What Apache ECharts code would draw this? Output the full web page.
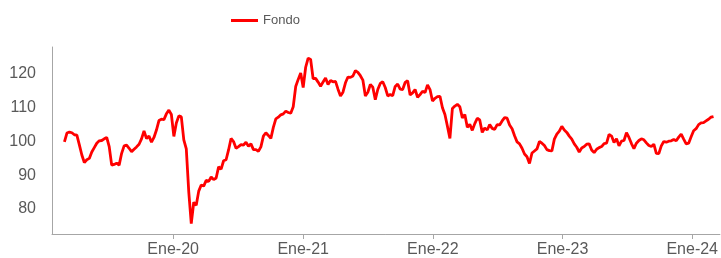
<!DOCTYPE html>
<html>
<head>
  <meta charset="UTF-8">
  <title>Fondo</title>
  <script src="https://cdn.jsdelivr.net/npm/echarts@6/dist/echarts.min.js"></script>
  <style>
    html, body { margin: 0; padding: 0; background: #fff; }
  </style>
</head>
<body>
<div id="main" style="width:721px;height:258px;"></div>

<script type="text/javascript">
  // serie semanal (viernes), desde el 1 de marzo de 2019
  var seriesName = 'Fondo';
  var firstWeek = [2019, 2, 1];
  var fondo = [
    99.9, 102.5, 102.8, 102.6, 102.0, 101.9, 99.0, 96.0, 93.8, 94.6,
    95.0, 96.9, 98.2, 99.5, 100.2, 100.3, 100.8, 101.2, 98.5, 93.0,
    93.2, 93.6, 93.0, 96.5, 98.7, 98.9, 98.0, 97.0, 97.7, 98.4,
    99.2, 100.8, 103.1, 100.9, 101.6, 99.8, 101.2, 103.4, 106.2, 106.6,
    106.5, 108.2, 109.3, 108.0, 101.5, 105.5, 107.6, 107.3, 100.5, 97.8,
    85.0, 75.7, 82.0, 81.1, 85.3, 87.1, 86.8, 88.5, 88.2, 89.5,
    88.7, 89.2, 92.5, 91.8, 94.3, 94.6, 97.5, 100.9, 100.0, 98.0,
    98.5, 99.1, 98.9, 99.8, 98.6, 99.3, 97.6, 97.6, 97.1, 98.4,
    101.6, 102.6, 101.8, 100.9, 104.2, 106.7, 107.2, 107.9, 108.2, 109.0,
    108.6, 108.4, 110.3, 116.3, 118.4, 120.3, 116.0, 122.0, 124.7, 124.3,
    118.6, 118.7, 117.6, 116.4, 117.6, 118.8, 116.9, 118.1, 117.7, 117.8,
    115.5, 113.5, 114.6, 117.4, 119.1, 119.0, 119.4, 121.0, 120.5, 119.5,
    118.2, 113.5, 114.6, 116.9, 116.1, 112.4, 115.4, 117.2, 117.7, 116.0,
    113.5, 113.9, 113.6, 116.3, 117.0, 115.5, 115.4, 117.5, 118.0, 113.8,
    114.4, 115.4, 113.1, 113.9, 114.9, 114.5, 116.8, 115.4, 112.0, 112.8,
    113.3, 113.4, 110.0, 108.0, 104.5, 100.9, 109.8, 110.5, 111.0, 110.3,
    107.0, 108.0, 104.2, 105.1, 103.3, 105.3, 106.9, 106.4, 102.7, 104.0,
    103.4, 105.0, 103.9, 103.6, 105.0, 104.9, 106.1, 107.1, 106.9, 104.9,
    103.8, 101.7, 99.9, 99.3, 98.0, 96.3, 95.5, 93.5, 96.6, 97.2,
    97.8, 100.0, 99.5, 98.8, 97.6, 97.3, 97.2, 100.7, 102.2, 103.1,
    104.5, 103.4, 102.7, 101.6, 100.7, 99.3, 98.3, 96.9, 98.1, 98.5,
    99.2, 99.3, 97.5, 96.7, 97.7, 98.2, 98.5, 99.4, 99.5, 102.1,
    101.6, 99.7, 100.8, 98.7, 100.1, 100.3, 102.6, 101.2, 99.4, 97.9,
    99.5, 100.3, 100.8, 100.5, 99.6, 98.8, 98.5, 99.2, 96.5, 96.4,
    98.7, 100.0, 99.8, 100.1, 100.2, 100.6, 100.2, 101.3, 102.2, 100.7,
    99.3, 99.5, 101.4, 103.2, 103.8, 105.0, 105.5, 105.6, 106.1, 106.6,
    107.2, 107.4
  ];
  var yTicks = [80, 90, 100, 110, 120];
  var monthPrefix = 'Ene-';

  var points = [];
  for (var i = 0; i < fondo.length; i++) {
    var d = new Date(firstWeek[0], firstWeek[1], firstWeek[2] + 7 * i);
    points.push([d.getTime(), fondo[i]]);
  }

  var myChart = echarts.init(document.getElementById('main'));
  var textColor = '#595959';
  var axisColor = '#a6a6a6';
  var YEAR = 365 * 24 * 3600 * 1000;

  myChart.setOption({
    animation: false,
    legend: {
      data: [{ name: seriesName, icon: 'rect' }],
      left: 226,
      top: 9,
      itemWidth: 27,
      itemHeight: 3,
      itemGap: 10,
      textStyle: { color: textColor, fontSize: 13, fontFamily: 'Liberation Sans' }
    },
    grid: { left: 52, right: 0, top: 47, bottom: 23 },
    xAxis: {
      type: 'time',
      min: new Date(2019, 0, 25).getTime(),
      max: new Date(2024, 2, 19).getTime(),
      minInterval: YEAR,
      maxInterval: YEAR * 1.1,
      splitLine: { show: false },
      axisLine: { lineStyle: { color: axisColor, width: 1 } },
      axisTick: { show: true, length: 5, lineStyle: { color: axisColor } },
      axisLabel: {
        color: textColor,
        fontSize: 16,
        fontFamily: 'Liberation Sans',
        margin: 8,
        formatter: function (val) {
          var d = new Date(val);
          if (d.getMonth() === 0 && d.getDate() === 1) {
            return monthPrefix + String(d.getFullYear()).slice(2);
          }
          return '';
        }
      }
    },
    yAxis: {
      type: 'value',
      min: 72.6,
      max: 128,
      splitLine: { show: false },
      axisLine: { show: true, lineStyle: { color: axisColor, width: 1 } },
      axisTick: { show: false },
      axisLabel: {
        color: textColor,
        fontSize: 16,
        fontFamily: 'Liberation Sans',
        margin: 16,
        showMinLabel: false,
        showMaxLabel: false,
        formatter: function (v) {
          return yTicks.indexOf(v) >= 0 ? String(v) : '';
        }
      }
    },
    series: [{
      name: seriesName,
      type: 'line',
      data: points,
      showSymbol: false,
      symbol: 'none',
      lineStyle: { color: '#ff0000', width: 2.8 },
      itemStyle: { color: '#ff0000' }
    }]
  });
</script>
</body>
</html>
